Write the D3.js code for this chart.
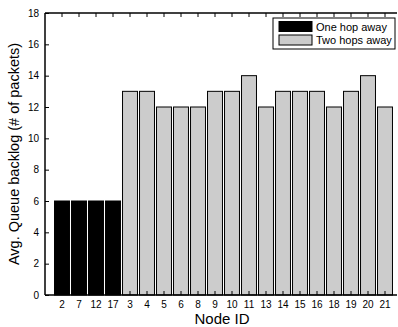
<!DOCTYPE html>
<html lang="en">
<head>
<meta charset="UTF-8">
<title>Avg. queue backlog</title>
<script src="https://d3js.org/d3.v7.min.js"></script>
<style>
  body { margin: 0; background: #fff; }
  text { font-family: "Liberation Sans", Arial, sans-serif; fill: #000; }
</style>
</head>
<body>
<svg width="398" height="327"></svg>
<script>
// one hop away nodes, then two hops away nodes
const oneHopNodes = ["2", "7", "12", "17"];
const oneHopBacklog = [6, 6, 6, 6];
const twoHopNodes = ["3", "4", "5", "6", "8", "9", "10", "11", "13", "14", "15", "16", "18", "19", "20", "21"];
const twoHopBacklog = [13, 13, 12, 12, 12, 13, 13, 14, 12, 13, 13, 13, 12, 13, 14, 12];
const yTicks = [0, 2, 4, 6, 8, 10, 12, 14, 16, 18];
const legendLabels = ["One hop away", "Two hops away"];
const colors = ["#000000", "#cccccc"];

const svg = d3.select("svg");
const plotLeft = 45, plotRight = 397, plotTop = 13, plotBottom = 295;

let bars = [];
oneHopNodes.forEach((n, i) => bars.push({ node: n, value: oneHopBacklog[i], group: 0 }));
twoHopNodes.forEach((n, i) => bars.push({ node: n, value: twoHopBacklog[i], group: 1 }));

const x = d3.scaleBand()
    .domain(bars.map(d => d.node))
    .range([53.5, 393.5])
    .paddingInner(0.12)
    .paddingOuter(0.06);

const y = d3.scaleLinear().domain([0, 18]).range([plotBottom, plotTop]);

// bars
svg.selectAll("rect.bar")
    .data(bars)
    .enter()
    .append("rect")
    .attr("class", "bar")
    .attr("x", d => x(d.node))
    .attr("y", d => y(d.value))
    .attr("width", x.bandwidth())
    .attr("height", d => y(0) - y(d.value))
    .attr("fill", d => colors[d.group])
    .attr("stroke", "#000")
    .attr("stroke-width", 1);

// y axis, ticks inside
const yAxis = svg.append("g")
    .attr("transform", `translate(${plotLeft},0)`)
    .call(d3.axisLeft(y).tickValues(yTicks).tickSizeInner(-4).tickSizeOuter(0).tickPadding(6));
yAxis.select(".domain").remove();
yAxis.selectAll("text").style("font-size", "10px");

// x axis labels
const xAxis = svg.append("g")
    .attr("transform", `translate(0,${plotBottom})`)
    .call(d3.axisBottom(x).tickSizeInner(-4).tickSizeOuter(0).tickPadding(6));
xAxis.select(".domain").remove();
xAxis.selectAll("text").style("font-size", "10px");

// top ticks
svg.append("g")
    .attr("transform", `translate(0,${plotTop})`)
    .call(d3.axisTop(x).tickSizeInner(-4).tickSizeOuter(0).tickFormat(""))
    .select(".domain").remove();

// axis lines
svg.append("line").attr("x1", plotLeft).attr("x2", plotRight).attr("y1", plotBottom).attr("y2", plotBottom)
    .attr("stroke", "#000").attr("stroke-width", 1.5);
svg.append("line").attr("x1", plotLeft).attr("x2", plotRight).attr("y1", plotTop).attr("y2", plotTop)
    .attr("stroke", "#000").attr("stroke-width", 1.5);
svg.append("line").attr("x1", plotLeft).attr("x2", plotLeft).attr("y1", plotTop).attr("y2", plotBottom)
    .attr("stroke", "#000").attr("stroke-width", 1.5);

// axis titles
svg.append("text")
    .attr("x", 222).attr("y", 324)
    .attr("text-anchor", "middle")
    .style("font-size", "15px")
    .text("Node ID");
svg.append("text")
    .attr("transform", "translate(19,154) rotate(-90)")
    .attr("text-anchor", "middle")
    .style("font-size", "14.5px")
    .text("Avg. Queue backlog (# of packets)");

// legend
const legend = svg.append("g");
legend.append("rect")
    .attr("x", 273).attr("y", 18).attr("width", 122).attr("height", 31)
    .attr("fill", "#fff").attr("stroke", "#000").attr("stroke-width", 1);
legendLabels.forEach((t, i) => {
    legend.append("rect")
        .attr("x", 279).attr("y", 21.5 + i * 13.5).attr("width", 33).attr("height", 10)
        .attr("fill", colors[i]).attr("stroke", "#000").attr("stroke-width", 1);
    legend.append("text")
        .attr("x", 316).attr("y", 30.5 + i * 13.5)
        .style("font-size", "11px")
        .text(t);
});
</script>
</body>
</html>
